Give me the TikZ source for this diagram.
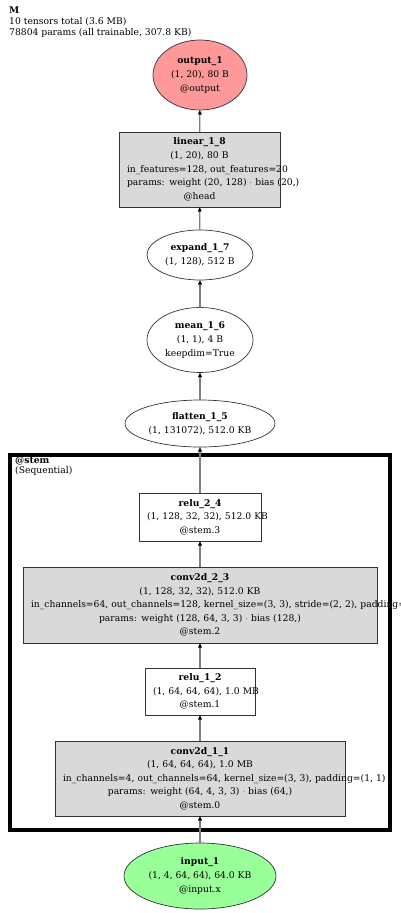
\documentclass[tikz,border=0pt]{standalone}
\usepackage{fontspec}
\setmainfont{DejaVu Serif}
\usetikzlibrary{arrows.meta,shapes.geometric}
\definecolor{outred}{RGB}{255,153,153}
\definecolor{ingreen}{RGB}{153,255,153}
\definecolor{modgray}{RGB}{217,217,217}
\tikzset{
  tensor/.style={
    draw=black!80, line width=0.7pt,
    shape=ellipse,
    inner sep=0, outer sep=0,
    align=center,
    font=\fontsize{9.2}{13.6}\selectfont
  },
  layer/.style={
    draw=black!80, line width=0.7pt,
    shape=rectangle,
    inner xsep=8pt, inner ysep=0, outer sep=0,
    align=center,
    font=\fontsize{9.2}{13.6}\selectfont
  },
  flow/.style={
    draw=gray, line width=1.2pt,
    -{Triangle[length=4.5pt,width=3.6pt,black]}
  }
}

\begin{document}
\begin{tikzpicture}[x=1pt,y=-1pt]
\useasboundingbox (0,0) rectangle (400,913);

%%%%%%%%% header
\node[anchor=north west, inner sep=0, align=left,
      font=\fontsize{9.2}{10.8}\selectfont] (title) at (9,6.5)
  {\textbf{M}\\10 tensors total (3.6 MB)\\78804 params (all trainable, 307.8 KB)};

%%%%%%%%% head part
\node[tensor, fill=outred, minimum width=94pt, minimum height=70pt] (output) at (200,75)
  {\textbf{output\_1}\\(1, 20), 80 B\\@output};
\node[layer, fill=modgray, text width=145pt, minimum height=75pt] (linear) at (199.5,169.5)
  {\textbf{linear\_1\_8}\\(1, 20), 80 B\\\mbox{in\_features=128, out\_features=20}\\\mbox{params: weight (20, 128) $\cdot$ bias (20,)}\\@head};
\node[tensor, fill=white, minimum width=106pt, minimum height=50pt] (expand) at (200,255)
  {\textbf{expand\_1\_7}\\(1, 128), 512 B};
\node[tensor, fill=white, minimum width=106pt, minimum height=65pt] (mean) at (200,340)
  {\textbf{mean\_1\_6}\\(1, 1), 4 B\\keepdim=True};
\node[tensor, fill=white, minimum width=150pt, minimum height=47pt] (flatten) at (200,423.5)
  {\textbf{flatten\_1\_5}\\(1, 131072), 512.0 KB};

%%%%%%%%% stem cluster
\draw[line width=4pt] (10,455) rectangle (390,830);
\node[anchor=north west, inner sep=0, align=left,
      font=\fontsize{9.2}{10.2}\selectfont] (stem) at (15,457)
  {\textbf{@stem}\\(Sequential)};

\node[layer, fill=white, text width=106pt, minimum height=48pt] (relu2) at (200,517)
  {\textbf{relu\_2\_4}\\\mbox{(1, 128, 32, 32), 512.0 KB}\\@stem.3};
\node[layer, fill=modgray, text width=338pt, minimum height=76pt] (conv2) at (200,605)
  {\textbf{conv2d\_2\_3}\\(1, 128, 32, 32), 512.0 KB\\\mbox{in\_channels=64, out\_channels=128, kernel\_size=(3, 3), stride=(2, 2), padding=(1, 1)}\\\mbox{params: weight (128, 64, 3, 3) $\cdot$ bias (128,)}\\@stem.2};
\node[layer, fill=white, text width=94pt, minimum height=47pt] (relu1) at (200,691.5)
  {\textbf{relu\_1\_2}\\\mbox{(1, 64, 64, 64), 1.0 MB}\\@stem.1};
\node[layer, fill=modgray, text width=274pt, minimum height=75pt] (conv1) at (200,778.5)
  {\textbf{conv2d\_1\_1}\\(1, 64, 64, 64), 1.0 MB\\\mbox{in\_channels=4, out\_channels=64, kernel\_size=(3, 3), padding=(1, 1)}\\\mbox{params: weight (64, 4, 3, 3) $\cdot$ bias (64,)}\\@stem.0};

%%%%%%%%% input
\node[tensor, fill=ingreen, minimum width=152pt, minimum height=66pt] (input) at (200,876)
  {\textbf{input\_1}\\(1, 4, 64, 64), 64.0 KB\\@input.x};

%%%%%%%%% edges
\draw[flow] (input) -- (conv1);
\draw[flow] (conv1) -- (relu1);
\draw[flow] (relu1) -- (conv2);
\draw[flow] (conv2) -- (relu2);
\draw[flow] (relu2) -- (flatten);
\draw[flow] (flatten) -- (mean);
\draw[flow] (mean) -- (expand);
\draw[flow] (expand) -- (linear);
\draw[flow] (linear) -- (output);

\end{tikzpicture}
\end{document}
